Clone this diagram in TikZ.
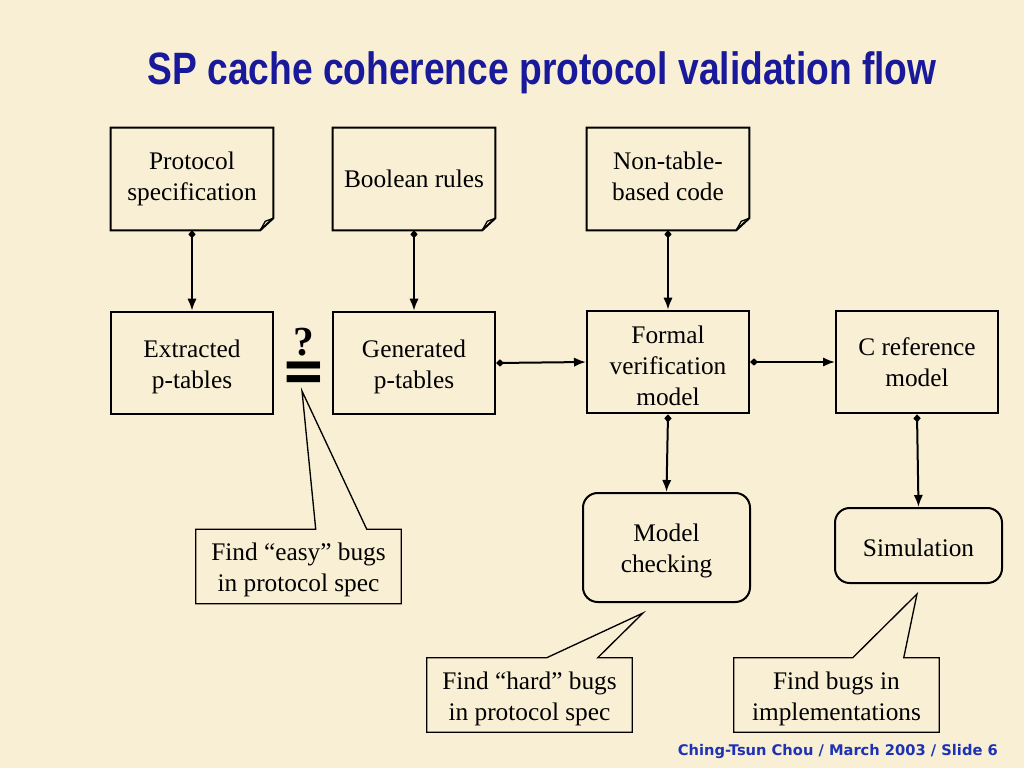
\documentclass[tikz,border=0pt]{standalone}
\usepackage{fontspec}
\setmainfont{Liberation Serif}
\newfontfamily\titlefont{Liberation Sans}[FakeStretch=0.82]
\newfontfamily\footfont{DejaVu Sans}
\usetikzlibrary{arrows.meta,calc}
\definecolor{bg}{RGB}{249,239,212}
\definecolor{titleblue}{RGB}{25,25,155}
\definecolor{footblue}{RGB}{30,50,180}
\newcommand\tl{\rule{0pt}{19pt}}
\newcommand\bl{\rule[-4.5pt]{0pt}{0pt}}
\newcommand\docoutline[1]{%
  \draw[line width=1.5pt, line join=miter] (#1.north west) -- (#1.north east) -- ($(#1.south east)+(0,-12)$) -- ($(#1.south east)+(-13,0)$) -- (#1.south west) -- cycle;
  \draw[line width=1pt, line join=miter] ($(#1.south east)+(0,-12)$) -- ($(#1.south east)+(-8,-9)$) -- ($(#1.south east)+(-13,0)$);}
\newcommand\calloutline[3]{%
  \draw[callline] (#1.north west) -- ($(#1.north west)+(#2,0)$) -- (#3) -- ($(#1.north west)+(#2+51,0)$) -- (#1.north east) -- (#1.south east) -- (#1.south west) -- cycle;}
\begin{document}
\begin{tikzpicture}[x=0.75pt,y=-0.75pt,
 body/.style={font=\fontsize{19}{23.25}\selectfont, align=center, inner sep=0pt},
 box/.style={body, draw, line width=1.5pt, minimum width=121.5pt, minimum height=77pt},
 doc/.style={body, minimum width=121.5pt, minimum height=76.5pt},
 rbox/.style={body, draw, line width=1.5pt, rounded corners=11pt, minimum width=125.25pt},
 callbox/.style={body, minimum width=153.75pt, minimum height=55.5pt},
 callline/.style={line width=1pt, line join=miter},
 flow/.style={line width=1.5pt, {Diamond[length=6pt,width=5.5pt]}-{Latex[length=9pt,width=7pt]}},
]
\fill[bg] (0,0) rectangle (1024,768);
\useasboundingbox (0,0) rectangle (1024,768);

\node[font=\titlefont\bfseries\fontsize{34}{40}\selectfont, text=titleblue, anchor=base] (title) at (542,84) {SP cache coherence protocol validation flow};

\node[doc] (spec) at (192,179) {Protocol\\specification};
\node[doc] (bool) at (414,179) {Boolean rules};
\node[doc] (nontab) at (668,179) {Non-table-\\based code\bl};
\docoutline{spec}
\docoutline{bool}
\docoutline{nontab}

\node[box] (ext) at (192,363) {\tl Extracted\\p-tables};
\node[box] (gen) at (414,363) {\tl Generated\\p-tables};
\node[box] (formal) at (668,362) {\tl Formal\\verification\\model};
\node[box] (cref) at (917,362) {C reference\\model};

\node[rbox, minimum height=81.75pt] (mc) at (666.5,547.5) {\tl Model\\checking};
\node[rbox, minimum height=56.25pt] (sim) at (918.5,545.5) {\rule{0pt}{16pt}Simulation};

\node[font=\bfseries\fontsize{31}{27}\selectfont, align=center, inner sep=0pt] (qeq) at (303.5,360)
  {?\\{\footfont\bfseries\scalebox{1}[1.15]{\fontsize{40}{40}\selectfont =}}};

\draw[flow] (spec.south) -- (ext.north);
\draw[flow] (bool.south) -- (gen.north);
\draw[flow] (nontab.south) -- (formal.north);
\draw[flow] (gen.east) -- (formal.west);
\draw[flow] (formal.east) -- (cref.west);
\draw[flow] (formal.south) -- (mc.north);
\draw[flow] (cref.south) -- (sim.north);

\node[callbox] (easy) at (298.5,566.5) {\tl Find “easy” bugs\\in protocol spec};
\node[callbox] (hard) at (529.5,695) {\tl Find “hard” bugs\\in protocol spec};
\node[callbox] (impl) at (836.5,695) {\tl Find bugs in\\implementations};
\coordinate (t1) at (302,391);
\coordinate (t2) at (643,613);
\coordinate (t3) at (917,594);
\calloutline{easy}{120}{t1}
\calloutline{hard}{120}{t2}
\calloutline{impl}{119}{t3}

\node[font=\footfont\bfseries\fontsize{11}{13}\selectfont, text=footblue, anchor=base east, inner sep=0pt] (foot) at (998,755) {Ching-Tsun Chou / March 2003 / Slide 6};
\end{tikzpicture}
\end{document}
